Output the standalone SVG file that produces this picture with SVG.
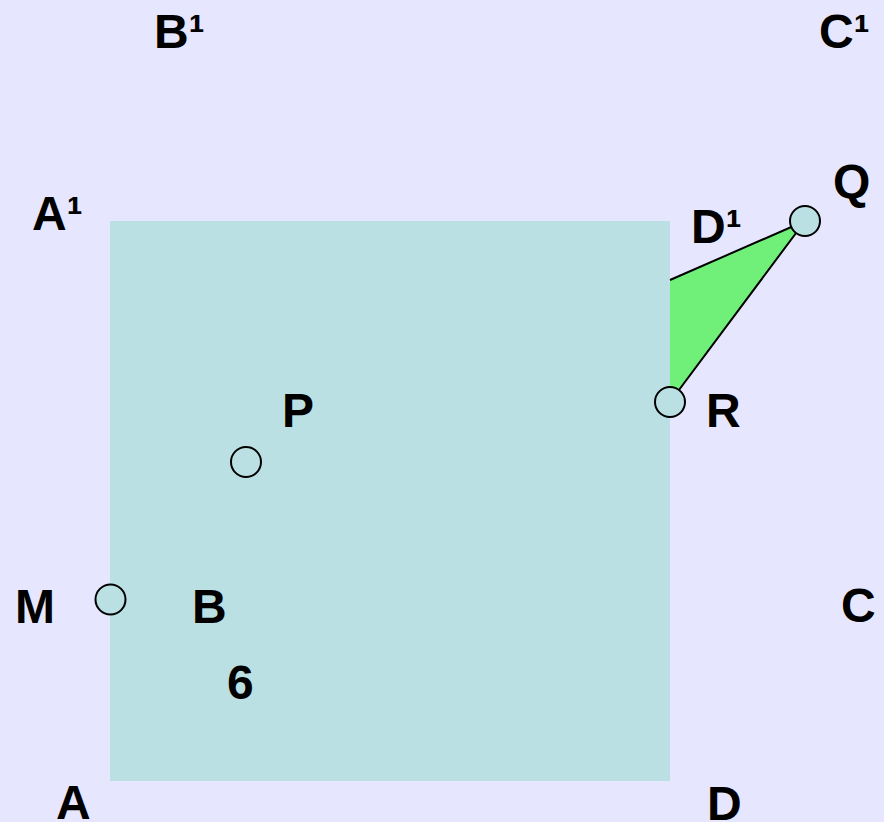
<svg xmlns="http://www.w3.org/2000/svg" width="884" height="822" viewBox="0 0 884 822">
<style>
.lbl{font-family:"Liberation Sans",Arial,sans-serif;font-weight:bold;font-size:48px;fill:#000}
.pt{fill:#BBE0E3;stroke:#000;stroke-width:2}
</style>
<rect x="0" y="0" width="884" height="822" fill="#E6E6FF"/>
<g id="square"><rect x="110" y="221" width="560" height="560" fill="#BBE0E3"/></g>
<g id="triangle">
<polygon points="670,280 805,221 670,402" fill="#70F078"/>
<polyline points="670,280 805,221 670,402" fill="none" stroke="#000" stroke-width="2"/>
</g>
<g id="points">
<circle id="pM" class="pt" cx="110.5" cy="599.5" r="15"/>
<circle id="pP" class="pt" cx="246" cy="462" r="15"/>
<circle id="pR" class="pt" cx="670" cy="402" r="15"/>
<circle id="pQ" class="pt" cx="805" cy="221" r="15"/>
</g>
<g id="labels">
<text class="lbl" x="154" y="48">B¹</text>
<text class="lbl" x="819" y="48">C¹</text>
<text class="lbl" x="32" y="230">A¹</text>
<text class="lbl" x="833" y="198">Q</text>
<text class="lbl" x="691" y="243">D¹</text>
<text class="lbl" x="282" y="427">P</text>
<text class="lbl" x="706" y="427">R</text>
<text class="lbl" x="15" y="623">M</text>
<text class="lbl" x="192" y="623">B</text>
<text class="lbl" x="841" y="622">C</text>
<text class="lbl" x="227" y="699">6</text>
<text class="lbl" x="56" y="819">A</text>
<text class="lbl" x="707" y="820">D</text>
</g>
</svg>
